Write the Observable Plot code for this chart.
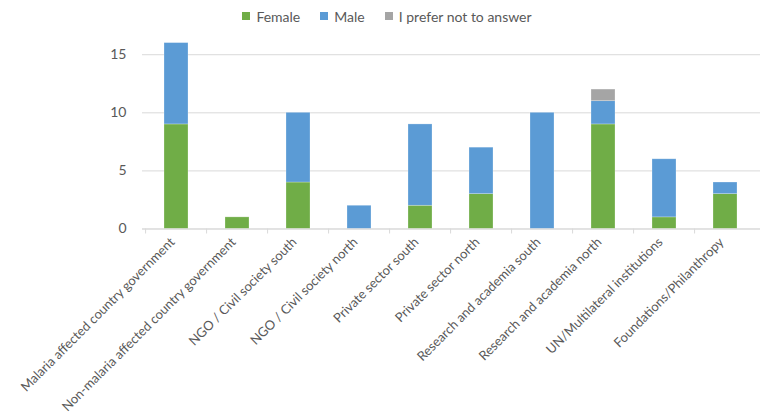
<!DOCTYPE html>
<html><head><meta charset="utf-8">
<script src="https://cdn.jsdelivr.net/npm/d3@7"></script>
<script src="https://cdn.jsdelivr.net/npm/@observablehq/plot@0.6"></script>
<style>
body{margin:0;background:#fff;font-family:Lato,"Open Sans",sans-serif;}
#legend{height:32px;display:flex;justify-content:center;align-items:center;font-size:14px;color:#595959;padding-left:14px;box-sizing:border-box;width:760px;}
.item{display:flex;align-items:center;margin:0 10px;}
.sw{width:8px;height:8px;margin-right:6px;}
</style></head><body>
<div id="legend"></div>
<div id="chart"></div>
<script>
const categories = [
  "Malaria affected country government",
  "Non-malaria affected country government",
  "NGO / Civil society south",
  "NGO / Civil society north",
  "Private sector south",
  "Private sector north",
  "Research and academia south",
  "Research and academia north",
  "UN/Multilateral institutions",
  "Foundations/Philanthropy"
];
const female = [9, 1, 4, 0, 2, 3, 0, 9, 1, 3];
const male = [7, 0, 6, 2, 7, 4, 10, 2, 5, 1];
const preferNot = [0, 0, 0, 0, 0, 0, 0, 1, 0, 0];
const seriesNames = ["Female", "Male", "I prefer not to answer"];
const seriesColors = ["#70AD47", "#5B9BD5", "#A5A5A5"];
const yTicks = [0, 5, 10, 15];

const seriesValues = [female, male, preferNot];
const data = [];
categories.forEach((c, i) => {
  seriesNames.forEach((s, j) => {
    data.push({category: c, series: s, value: seriesValues[j][i]});
  });
});

const legend = document.getElementById("legend");
seriesNames.forEach((s, j) => {
  const it = document.createElement("div");
  it.className = "item";
  it.innerHTML = `<span class="sw" style="background:${seriesColors[j]}"></span><span>${s}</span>`;
  legend.appendChild(it);
});

const W = 760, H = 381, mL = 142, mR = 0, mT = 10.6, mB = 184.5;
const pIn = 0.6, pOut = 0.3;
const step = (W - mL - mR) / (categories.length - pIn + 2 * pOut);

const chart = Plot.plot({
  width: W, height: H,
  marginLeft: mL, marginRight: mR, marginTop: mT, marginBottom: mB,
  style: {fontFamily: "Lato, 'Open Sans', sans-serif", fontSize: "13px", color: "#595959", background: "#fff"},
  x: {domain: categories, paddingInner: pIn, paddingOuter: pOut, label: null},
  y: {domain: [0, 16], label: null},
  color: {domain: seriesNames, range: seriesColors},
  marks: [
    Plot.gridY(yTicks, {stroke: "#d9d9d9", strokeOpacity: 1, strokeWidth: 1}),
    Plot.barY(data, Plot.stackY({x: "category", y: "value", fill: "series", order: seriesNames, stroke: "#ffffff", strokeOpacity: 0.35, strokeWidth: 0.7})),
    Plot.ruleY([0], {stroke: "#d9d9d9", strokeWidth: 1}),
    Plot.axisY(yTicks, {tickSize: 0, tickPadding: 16, fontSize: 14, fill: "#595959", label: null}),
    Plot.axisX({tickSize: 5, tickFormat: () => "", dx: -step / 2, stroke: "#d9d9d9", label: null}),
    Plot.axisX({tickSize: 0, tickRotate: -45, tickPadding: 6, fontSize: 13, fill: "#595959", label: null, dx: -4, dy: 5})
  ]
});
document.getElementById("chart").appendChild(chart);
</script>
</body></html>
